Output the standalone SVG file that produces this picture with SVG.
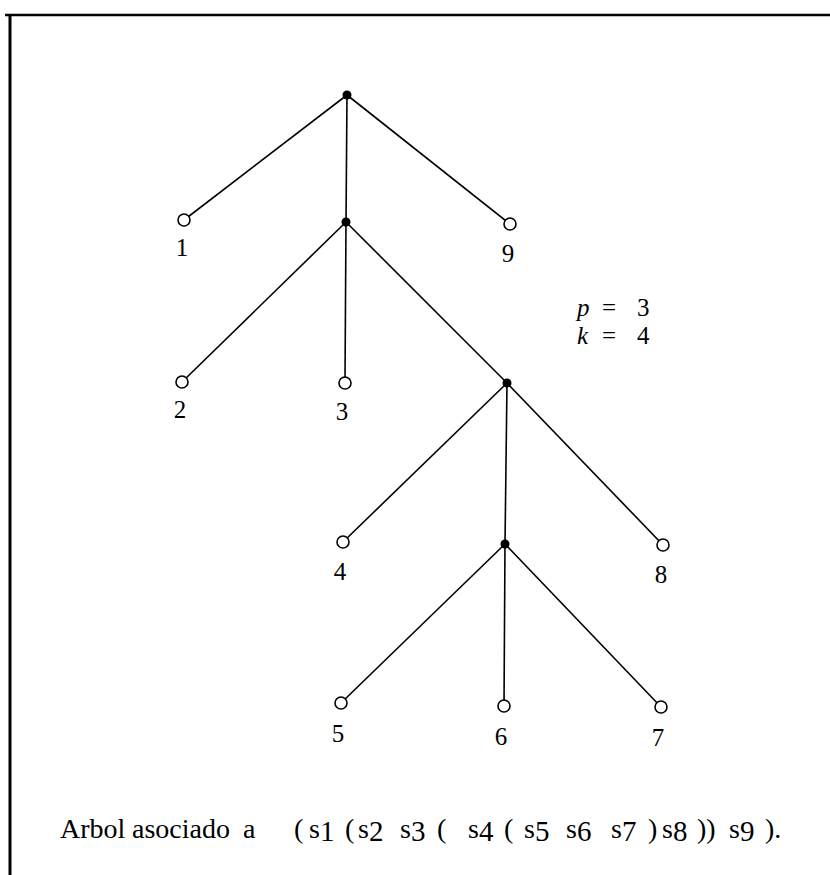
<svg xmlns="http://www.w3.org/2000/svg" width="830" height="875" viewBox="0 0 830 875">
<style>
.edge{stroke:#000;stroke-width:1.6;fill:none}
.leaf{fill:#fff;stroke:#000;stroke-width:1.6}
.inner{fill:#000}
.lbl{font-family:"Liberation Serif",serif;font-size:25px;text-anchor:middle;fill:#000}
.math{font-family:"Liberation Serif",serif;font-size:25px;fill:#000}
.cap{font-family:"Liberation Serif",serif;font-size:28px;fill:#000}
.d{font-size:29px}
</style>
<rect width="830" height="875" fill="#fff"/>
<g id="frame" stroke="#000" fill="none">
<line x1="5" y1="15" x2="830" y2="15" stroke-width="2.5"/>
<line x1="10" y1="14" x2="10" y2="875" stroke-width="3"/>
</g>
<g id="connectors">
<line class="edge" x1="347" y1="95" x2="184" y2="220"/>
<line class="edge" x1="347" y1="95" x2="510" y2="224"/>
<line class="edge" x1="347" y1="95" x2="346" y2="222"/>
<line class="edge" x1="346" y1="222" x2="182" y2="382"/>
<line class="edge" x1="346" y1="222" x2="345" y2="383"/>
<line class="edge" x1="346" y1="222" x2="507" y2="383"/>
<line class="edge" x1="507" y1="383" x2="343" y2="542"/>
<line class="edge" x1="507" y1="383" x2="505" y2="544"/>
<line class="edge" x1="507" y1="383" x2="663" y2="545"/>
<line class="edge" x1="505" y1="544" x2="341" y2="703"/>
<line class="edge" x1="505" y1="544" x2="504" y2="706"/>
<line class="edge" x1="505" y1="544" x2="661" y2="707"/>
</g>
<g id="root"><circle class="inner" cx="347" cy="95" r="4.5"/></g>
<g id="nA"><circle class="inner" cx="346" cy="222" r="4.5"/></g>
<g id="nB"><circle class="inner" cx="507" cy="383" r="4.5"/></g>
<g id="nC"><circle class="inner" cx="505" cy="544" r="4.5"/></g>
<g id="n1"><circle class="leaf" cx="184" cy="220" r="6"/><text class="lbl" x="182" y="256">1</text></g>
<g id="n9"><circle class="leaf" cx="510" cy="224" r="6"/><text class="lbl" x="508" y="262">9</text></g>
<g id="n2"><circle class="leaf" cx="182" cy="382" r="6"/><text class="lbl" x="180" y="418">2</text></g>
<g id="n3"><circle class="leaf" cx="345" cy="383" r="6"/><text class="lbl" x="342" y="420">3</text></g>
<g id="n4"><circle class="leaf" cx="343" cy="542" r="6"/><text class="lbl" x="340" y="580">4</text></g>
<g id="n8"><circle class="leaf" cx="663" cy="545" r="6"/><text class="lbl" x="661" y="583">8</text></g>
<g id="n5"><circle class="leaf" cx="341" cy="703" r="6"/><text class="lbl" x="338" y="742">5</text></g>
<g id="n6"><circle class="leaf" cx="504" cy="706" r="6"/><text class="lbl" x="501" y="745">6</text></g>
<g id="n7"><circle class="leaf" cx="661" cy="707" r="6"/><text class="lbl" x="658" y="746">7</text></g>
<g id="params">
<text class="math" y="316"><tspan x="577" font-style="italic">p</tspan><tspan x="602">=</tspan><tspan x="637">3</tspan></text>
<text class="math" y="344"><tspan x="577" font-style="italic">k</tspan><tspan x="602">=</tspan><tspan x="637">4</tspan></text>
</g>
<g id="caption">
<text class="cap">
<tspan x="60" y="838">Arbol</tspan>
<tspan x="132" y="838">asociado</tspan>
<tspan x="243" y="838">a</tspan>
<tspan x="294" y="838">(</tspan>
<tspan x="309" y="838">s</tspan><tspan class="d" dy="3">1</tspan>
<tspan x="345" y="838">(</tspan>
<tspan x="358" y="838">s</tspan><tspan class="d" dy="3">2</tspan>
<tspan x="400" y="838">s</tspan><tspan class="d" dy="3">3</tspan>
<tspan x="437" y="838">(</tspan>
<tspan x="468" y="838">s</tspan><tspan class="d" dy="3">4</tspan>
<tspan x="504" y="838">(</tspan>
<tspan x="524" y="838">s</tspan><tspan class="d" dy="3">5</tspan>
<tspan x="566" y="838">s</tspan><tspan class="d" dy="3">6</tspan>
<tspan x="611" y="838">s</tspan><tspan class="d" dy="3">7</tspan>
<tspan x="648" y="838">)</tspan>
<tspan x="662" y="838">s</tspan><tspan class="d" dy="3">8</tspan>
<tspan x="697" y="838">))</tspan>
<tspan x="729" y="838">s</tspan><tspan class="d" dy="3">9</tspan>
<tspan x="765" y="838">).</tspan>
</text>
</g>
</svg>
